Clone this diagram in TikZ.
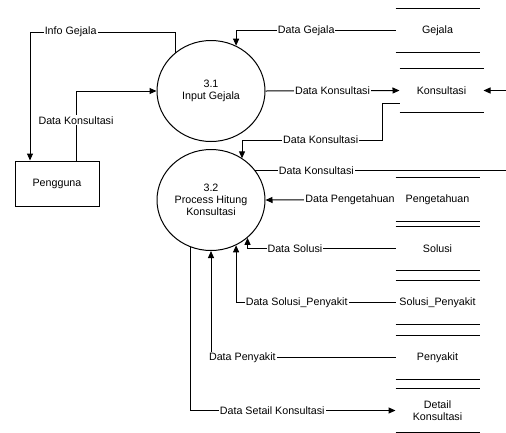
\documentclass[tikz,border=0pt]{standalone}
\usepackage{fontspec}
\setmainfont{Liberation Sans}
\usetikzlibrary{shapes.geometric}
\usetikzlibrary{arrows.meta}

\begin{document}
\begin{tikzpicture}[x=1pt,y=-1pt,font=\fontsize{10.7}{12}\selectfont,line width=1pt,>={Triangle[length=7pt,width=6pt]}]
  \tikzstyle{process}=[ellipse,draw,minimum width=108pt,minimum height=101pt,inner sep=0pt,align=center]
  \tikzstyle{entity}=[rectangle,draw,minimum width=84pt,minimum height=45pt]
  \tikzstyle{store}=[rectangle,minimum width=83pt,minimum height=43pt,inner sep=0pt,align=center]
  \tikzstyle{flow}=[fill=white,inner sep=1pt]
  \useasboundingbox (0,0) rectangle (506,432);
  \clip (0,0) rectangle (506,432);

  \node[process] (input) at (211,91) {3.1\\Input Gejala};
  \node[process] (hitung) at (211,200) {3.2\\Process Hitung\\Konsultasi};
  \node[entity] (pengguna) at (57,183.5) {Pengguna};

  \node[store] (gejala) at (437.5,30.5) {Gejala};
  \node[store] (konsultasi) at (441.5,90.5) {Konsultasi};
  \node[store] (pengetahuan) at (437.5,199.5) {Pengetahuan};
  \node[store] (solusi) at (437.5,248.5) {Solusi};
  \node[store] (solpenyakit) at (437.5,302.5) {Solusi\_Penyakit};
  \node[store] (penyakit) at (437.5,357.5) {Penyakit};
  \node[store] (detail) at (437.5,410.5) {Detail\\Konsultasi};
  \foreach \s in {gejala,konsultasi,pengetahuan,solusi,solpenyakit,penyakit,detail}
    \draw (\s.north west) -- (\s.north east) (\s.south west) -- (\s.south east);

  \coordinate (c1) at (30,32);
  \draw[->] (input.133) |- (c1) node[flow,pos=0.86] (l1) {Info Gejala} -- (c1 |- pengguna.north);

  \coordinate (c2) at (76,91);
  \draw[->] (c2 |- pengguna.north) |- (input.west) node[flow,pos=0.29] (l2) {Data Konsultasi};

  \draw[->] (gejala.west) -| (input.61) node[flow,pos=0.28] (l3) {Data Gejala};

  \draw[->] (input.east) -- (konsultasi.west) node[flow,midway] (l4) {Data Konsultasi};

  \draw[->] (hitung.34) -- ++(260,0) node[flow,pos=0.235] (l5) {Data Konsultasi} |- (konsultasi.east);

  \coordinate (c6) at (242,140);
  \draw[->] ([yshift=-13pt]konsultasi.west) -- ++(-17,0) |- (c6) node[flow,pos=0.72] (l6) {Data Konsultasi} -- (c6 |- hitung.53);

  \draw[->] (pengetahuan.west) -- (hitung.east) node[flow,pos=0.35] (l7) {Data Pengetahuan};

  \draw[->] (solusi.west) -| (hitung.-46) node[flow,pos=0.34] (l8) {Data Solusi};

  \draw[->] (solpenyakit.west) -| (hitung.-61) node[flow,pos=0.31] (l9) {Data Solusi\_Penyakit};

  \draw[->] (penyakit.west) -| (hitung.south) node[flow,pos=0.415] (l10) {Data Penyakit};

  \draw[->] (hitung.-114) |- (detail.west) node[flow,pos=0.7] (l11) {Data Setail Konsultasi};
\end{tikzpicture}
\end{document}
